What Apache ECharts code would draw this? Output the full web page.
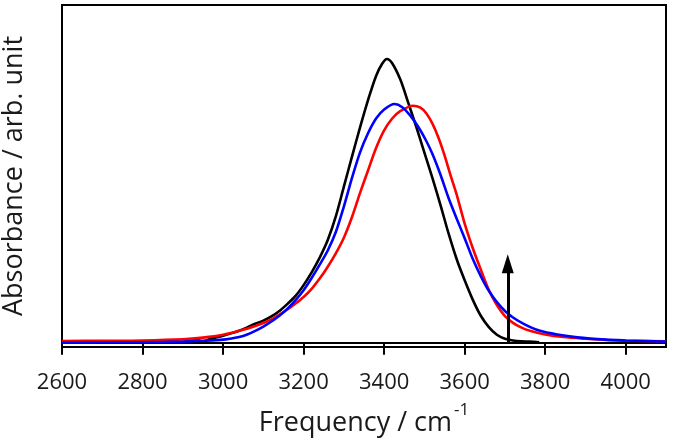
<!DOCTYPE html>
<html>
<head>
<meta charset="utf-8">
<script src="https://cdn.jsdelivr.net/npm/echarts@6/dist/echarts.min.js"></script>
<style>
html,body{margin:0;padding:0;background:#fff;}
#chart{width:675px;height:442px;}
</style>
</head>
<body>
<div id="chart"></div>
<script>
// Tick labels of the frequency axis (cm^-1)
const freqTicks = [2600, 2800, 3000, 3200, 3400, 3600, 3800, 4000];

// Black spectrum: [frequency, absorbance]
const blackSpectrum = [
  [2905, 0.008], [2920, 0.009], [2935, 0.010], [2950, 0.003], [2965, 0.012],
  [2980, 0.018], [3000, 0.025], [3020, 0.033], [3040, 0.042], [3060, 0.054],
  [3080, 0.067], [3100, 0.078], [3120, 0.093], [3140, 0.112], [3160, 0.137],
  [3180, 0.165], [3200, 0.203], [3220, 0.248], [3240, 0.300], [3260, 0.362],
  [3280, 0.445], [3300, 0.550], [3320, 0.655], [3340, 0.758], [3360, 0.855],
  [3380, 0.940], [3395, 0.983], [3407, 1.000], [3420, 0.985], [3440, 0.928],
  [3460, 0.845], [3480, 0.760], [3500, 0.670], [3520, 0.580], [3540, 0.485],
  [3560, 0.385], [3580, 0.295], [3600, 0.220], [3620, 0.152], [3640, 0.095],
  [3660, 0.055], [3680, 0.028], [3700, 0.014], [3720, 0.008], [3740, 0.005],
  [3760, 0.004], [3785, 0.002]
];

// Blue spectrum: [frequency, absorbance]
const blueSpectrum = [
  [2600, 0.000], [2700, 0.001], [2800, 0.002], [2900, 0.004], [2950, 0.007],
  [3000, 0.011], [3020, 0.015], [3040, 0.020], [3060, 0.029], [3080, 0.042],
  [3100, 0.057], [3120, 0.075], [3140, 0.095], [3160, 0.120], [3180, 0.150],
  [3200, 0.185], [3220, 0.228], [3240, 0.275], [3260, 0.325], [3280, 0.390],
  [3300, 0.480], [3320, 0.580], [3340, 0.670], [3360, 0.738], [3380, 0.790],
  [3400, 0.822], [3426, 0.841], [3445, 0.830], [3465, 0.800], [3485, 0.760],
  [3505, 0.710], [3520, 0.665], [3540, 0.592], [3560, 0.510], [3580, 0.438],
  [3600, 0.368], [3620, 0.296], [3640, 0.235], [3660, 0.183], [3680, 0.143],
  [3700, 0.112], [3720, 0.089], [3750, 0.064], [3787, 0.042], [3830, 0.029],
  [3880, 0.019], [3950, 0.011], [4000, 0.008], [4050, 0.006], [4100, 0.004]
];

// Red spectrum: [frequency, absorbance]
const redSpectrum = [
  [2600, 0.006], [2700, 0.007], [2800, 0.008], [2900, 0.012], [2950, 0.018],
  [3000, 0.028], [3040, 0.042], [3080, 0.059], [3120, 0.082], [3140, 0.099],
  [3160, 0.117], [3180, 0.138], [3200, 0.161], [3220, 0.190], [3240, 0.226],
  [3260, 0.268], [3280, 0.315], [3300, 0.370], [3320, 0.442], [3340, 0.527],
  [3360, 0.607], [3380, 0.686], [3400, 0.748], [3420, 0.790], [3440, 0.816],
  [3472, 0.835], [3490, 0.828], [3505, 0.808], [3520, 0.772], [3535, 0.722],
  [3550, 0.660], [3565, 0.590], [3580, 0.523], [3600, 0.420], [3620, 0.334],
  [3640, 0.258], [3660, 0.186], [3680, 0.133], [3700, 0.094], [3720, 0.070],
  [3740, 0.054], [3762, 0.042], [3800, 0.029], [3845, 0.020], [3900, 0.014],
  [3950, 0.010], [4000, 0.007], [4100, 0.005]
];

// Arrow marker: position, foot and head (centre of arrow head)
const arrowFreq = 3707;
const arrowBottom = 0;
const arrowTop = 0.278;

const FONT = '"Open Sans", "Noto Sans", sans-serif';
const TXT = '#1a1a1a';

const chart = echarts.init(document.getElementById('chart'), null, {renderer: 'canvas'});

function lineSeries(name, data, color) {
  return {
    name: name,
    type: 'line',
    data: data,
    smooth: 0.3,
    symbol: 'none',
    lineStyle: {color: color, width: 2.6},
    itemStyle: {color: color},
    z: 3
  };
}

const blackSeries = lineSeries('black', blackSpectrum, '#000000');
blackSeries.z = 2;
blackSeries.markLine = {
  silent: true,
  symbol: ['none', 'triangle'],
  symbolSize: [12, 19],
  label: {show: false},
  lineStyle: {color: '#000', width: 3, type: 'solid'},
  data: [[{coord: [arrowFreq, arrowBottom]}, {coord: [arrowFreq, arrowTop]}]],
  z: 5
};

const option = {
  animation: false,
  backgroundColor: '#ffffff',
  grid: {
    left: 62, right: 9, top: 5, bottom: 95,
    outerBoundsMode: 'none',
    containLabel: false,
    show: true, borderColor: '#000', borderWidth: 2, backgroundColor: 'transparent'
  },
  xAxis: {
    type: 'value',
    min: 2600,
    max: 4100,
    interval: 200,
    name: '{a|Frequency / cm}{s|-1}',
    nameLocation: 'middle',
    nameGap: 55,
    nameTextStyle: {
      rich: {
        a: {fontSize: 27, lineHeight: 42, fontFamily: FONT, color: TXT},
        s: {fontSize: 17, lineHeight: 17, verticalAlign: 'top', padding: [0, 0, 0, 2], fontFamily: FONT, color: TXT}
      }
    },
    axisLine: {show: true, lineStyle: {color: '#000', width: 2}},
    axisTick: {show: true, inside: false, length: 12, customValues: freqTicks, lineStyle: {color: '#000', width: 2}},
    axisLabel: {
      show: true, customValues: freqTicks, margin: 25, fontSize: 22, fontFamily: FONT, color: TXT,
      formatter: function (v) { return String(v); }
    },
    splitLine: {show: false}
  },
  yAxis: {
    type: 'value',
    min: -0.015,
    max: 1.19,
    name: 'Absorbance / arb. unit',
    nameLocation: 'middle',
    nameGap: 34,
    nameTextStyle: {fontSize: 27, fontFamily: FONT, color: TXT},
    axisLine: {show: false},
    axisTick: {show: false},
    axisLabel: {show: false},
    splitLine: {show: false}
  },
  series: [
    lineSeries('red', redSpectrum, '#ff0000'),
    lineSeries('blue', blueSpectrum, '#0000ff'),
    blackSeries
  ]
};
chart.setOption(option);
</script>
</body>
</html>
